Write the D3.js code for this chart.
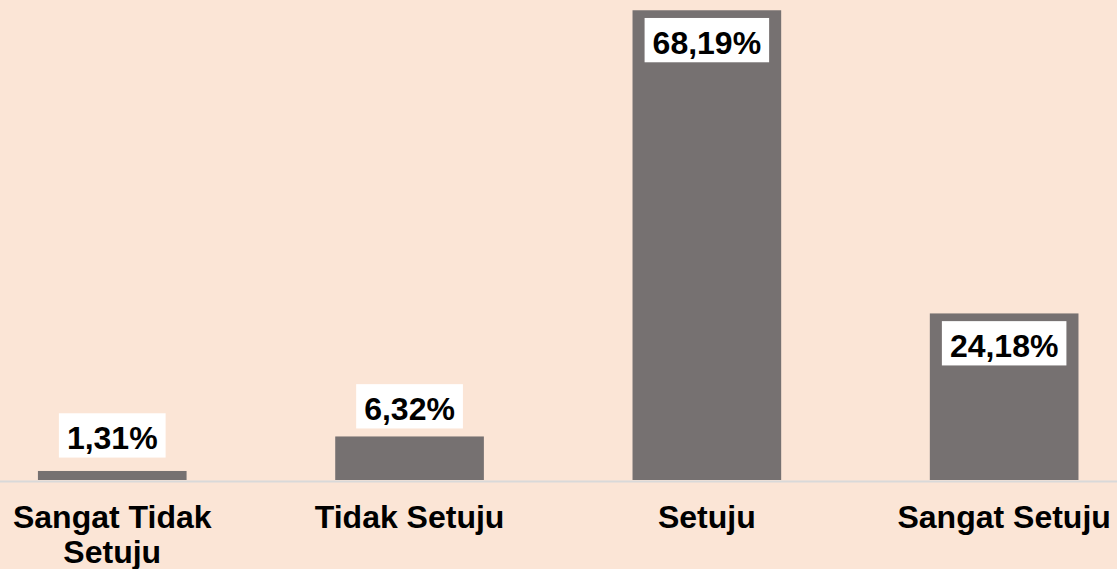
<!DOCTYPE html>
<html>
<head>
<meta charset="utf-8">
<script src="https://cdn.jsdelivr.net/npm/d3@7"></script>
<style>
  html, body { margin: 0; padding: 0; background: #FBE5D6; }
  svg { display: block; }
  text { font-family: "Liberation Sans", Arial, sans-serif; font-weight: bold; fill: #000; }
</style>
</head>
<body>
<svg id="chart" width="1117" height="569"></svg>
<script>
// Survey responses (percent of respondents)
const categories = ["Sangat Tidak Setuju", "Tidak Setuju", "Setuju", "Sangat Setuju"];
const values = [1.31, 6.32, 68.19, 24.18];
const valueLabels = ["1,31%", "6,32%", "68,19%", "24,18%"];

const W = 1117, H = 569;
const baseY = 480;
const fontSize = 32;

const svg = d3.select("#chart");

svg.append("rect").attr("width", W).attr("height", H).attr("fill", "#FBE5D6");

const x = d3.scaleBand()
  .domain(categories)
  .range([-36.4, 1152.8])
  .paddingInner(0.5)
  .paddingOuter(0.25);

const y = d3.scaleLinear().domain([0, 70]).range([baseY, -2.2]);

const data = categories.map((c, i) => ({ cat: c, value: values[i], label: valueLabels[i] }));

// bars
svg.append("g").selectAll("rect")
  .data(data)
  .join("rect")
  .attr("x", d => x(d.cat))
  .attr("y", d => y(d.value))
  .attr("width", x.bandwidth())
  .attr("height", d => y(0) - y(d.value))
  .attr("fill", "#767171");

// category axis
const axis = svg.append("g")
  .attr("transform", `translate(0,${baseY + 1})`)
  .call(d3.axisBottom(x).tickSize(0).tickPadding(0));
axis.select(".domain").attr("stroke", "#D9D9D9").attr("stroke-width", 2);
axis.selectAll(".tick text").remove();

// wrapped tick labels
const maxLineWidth = 260;
const lineHeight = 35;
const measure = svg.append("text").attr("font-size", fontSize).attr("visibility", "hidden");
function wrapWords(str) {
  const words = str.split(" ");
  const lines = [];
  let line = [];
  words.forEach(w => {
    const test = line.concat(w).join(" ");
    measure.text(test);
    if (line.length && measure.node().getComputedTextLength() > maxLineWidth) {
      lines.push(line.join(" "));
      line = [w];
    } else {
      line.push(w);
    }
  });
  if (line.length) lines.push(line.join(" "));
  return lines;
}

axis.selectAll(".tick").each(function(d) {
  const t = d3.select(this).append("text")
    .attr("text-anchor", "middle")
    .attr("font-size", fontSize)
    .attr("fill", "#000");
  wrapWords(d).forEach((ln, i) => {
    t.append("tspan").attr("x", 0).attr("y", 47.3 + i * lineHeight).text(ln);
  });
});
measure.remove();

// value labels in white boxes: above short bars, inside tall bars
const padX = 8, padTop = 12.7, padBottom = 8.7;
const capH = fontSize * 0.716;
const boxH = padTop + capH + padBottom;
const outsideGap = 8;
const insideGap = 7.7;
const extraLift = [5.4, 0, 0, 0];

const labels = svg.append("g");
data.forEach((d, i) => {
  const cx = x(d.cat) + x.bandwidth() / 2;
  const top = y(d.value);
  const inside = (y(0) - top) > boxH + 2 * insideGap + 40;
  const boxTop = inside ? top + insideGap : top - outsideGap - extraLift[i] - boxH;
  const g = labels.append("g");
  const txt = g.append("text")
    .attr("x", cx)
    .attr("y", boxTop + padTop + capH)
    .attr("text-anchor", "middle")
    .attr("font-size", fontSize)
    .text(d.label);
  const tw = txt.node().getComputedTextLength();
  g.insert("rect", "text")
    .attr("x", cx - tw / 2 - padX)
    .attr("y", boxTop)
    .attr("width", tw + 2 * padX)
    .attr("height", boxH)
    .attr("fill", "#FFFFFF");
});
</script>
</body>
</html>
